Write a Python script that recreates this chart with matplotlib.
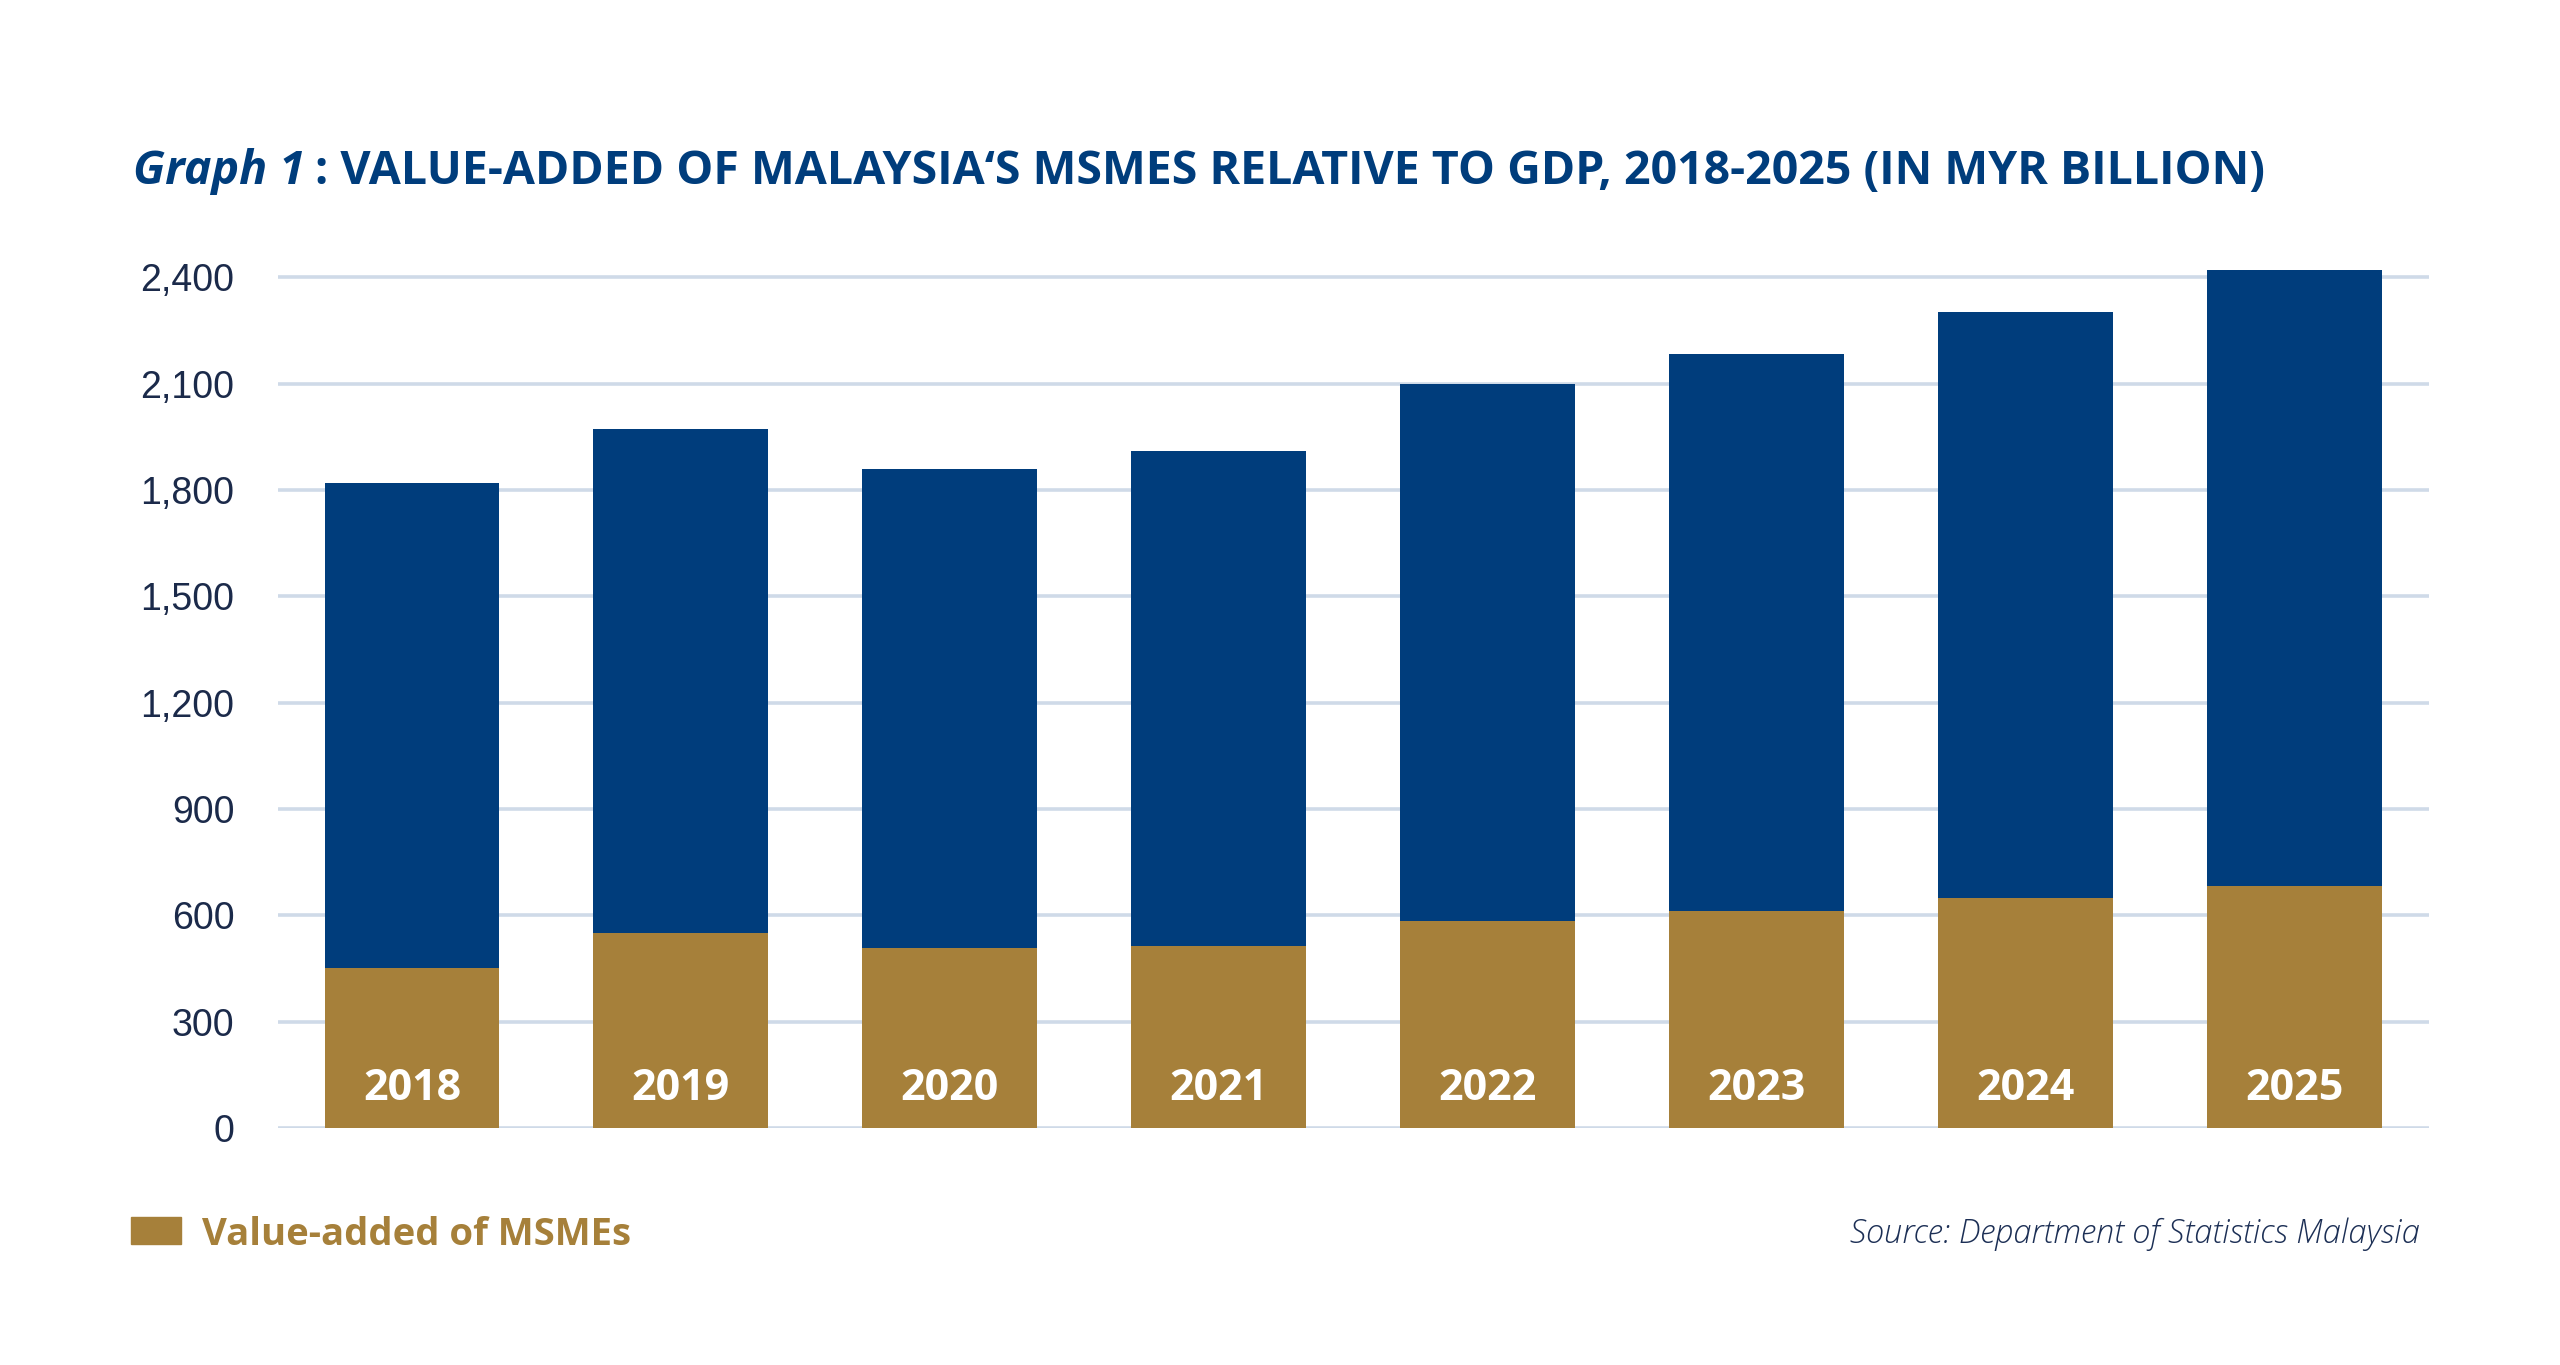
import matplotlib.pyplot as plt
from matplotlib.patches import Rectangle

# data (MYR billion)
years = ['2018', '2019', '2020', '2021', '2022', '2023', '2024', '2025']
gdp = [1819, 1973, 1861, 1910, 2099, 2183, 2302, 2422]
msme_va = [452, 550, 507, 515, 584, 613, 648, 683]
y_ticks = [0, 300, 600, 900, 1200, 1500, 1800, 2100, 2400]

blue = '#003d7c'
gold = '#a6803a'
navy = '#1b2a4a'
grid_col = '#cfdae8'

fig = plt.figure(figsize=(25.6, 13.65), dpi=100)
ax = fig.add_axes([0.1084, 0.1735, 0.8404, 0.6492])

x = list(range(len(years)))
ax.bar(x, gdp, width=0.65, color=blue, zorder=2)
ax.bar(x, msme_va, width=0.65, color=gold, zorder=3)

for i, yr in enumerate(years):
    ax.annotate(yr, (i, 0), xytext=(0, 20), textcoords='offset points',
                ha='center', va='baseline', color='white', fontsize=31,
                fontweight='bold', family='Open Sans', zorder=4)

ax.set_xlim(-0.5, 7.5)
ax.set_ylim(0, 2500)
ax.set_yticks(y_ticks)
ax.set_yticklabels([f'{v:,}' for v in y_ticks])
ax.set_xticks([])
ax.tick_params(axis='y', length=0, pad=31, labelsize=27, labelcolor=navy)
for lab in ax.get_yticklabels():
    lab.set_family('Liberation Sans')
ax.yaxis.grid(True, color=grid_col, linewidth=2.6)
ax.set_axisbelow(True)
for s in ax.spines.values():
    s.set_visible(False)

# title
t1 = fig.text(133 / 2560, 1 - 184 / 1365, 'Graph 1', color=blue, fontsize=33.5,
              fontweight='bold', style='italic', family='Open Sans', va='baseline')
fig.canvas.draw()
bb = t1.get_window_extent()
fig.text(bb.x1 / 2560 + 0.004, 1 - 184 / 1365,
         ': VALUE-ADDED OF MALAYSIA\u2018S MSMES RELATIVE TO GDP, 2018-2025 (IN MYR BILLION)',
         color=blue, fontsize=33.5, fontweight='bold', family='Open Sans', va='baseline')

# legend
fig.patches.append(Rectangle((131 / 2560, 1 - 1244 / 1365), 50 / 2560, 27 / 1365,
                             transform=fig.transFigure, color=gold))
fig.text(202 / 2560, 1 - 1245 / 1365, 'Value-added of MSMEs', color=gold, fontsize=27.5,
         fontweight='bold', family='Open Sans', va='baseline')

# source
fig.text(2420 / 2560, 1 - 1243 / 1365, 'Source: Department of Statistics Malaysia',
         color='#1c2f55', fontsize=23.5, style='italic', fontweight='light',
         family='Open Sans', ha='right', va='baseline')

fig.savefig('out.png', dpi=100, facecolor='white')
